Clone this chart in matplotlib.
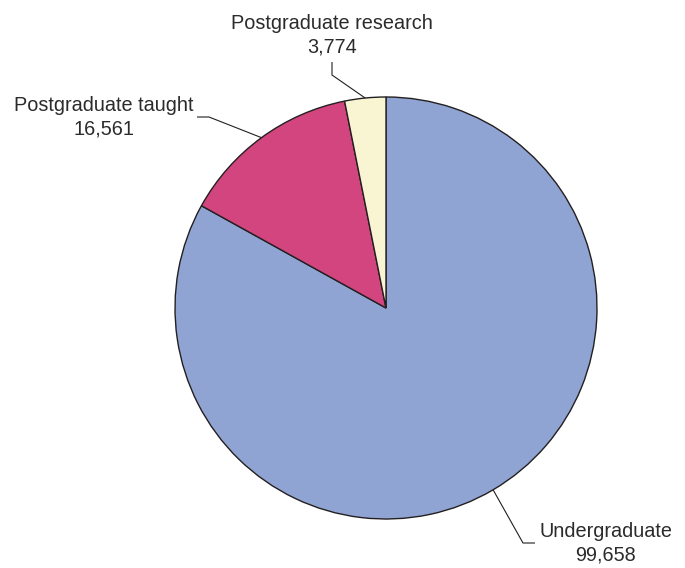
import numpy as np
import matplotlib
matplotlib.use("Agg")
import matplotlib.pyplot as plt

labels = ["Undergraduate", "Postgraduate taught", "Postgraduate research"]
values = [99658, 16561, 3774]
colors = ["#8fa4d3", "#d3457e", "#f9f5d3"]

W, H = 685, 568
fig = plt.figure(figsize=(W / 100, H / 100), dpi=100)
ax = fig.add_axes([0, 0, 1, 1])


def Y(py):
    # pixel row (from top) -> data y
    return H - py


cx, cy, r = 386, Y(308), 211
wedges, _ = ax.pie(
    values,
    colors=colors,
    startangle=90,
    counterclock=False,
    center=(cx, cy),
    radius=r,
    wedgeprops={"edgecolor": "#231f20", "linewidth": 1.0},
)
ax.set_xlim(0, W)
ax.set_ylim(0, H)
ax.set_aspect("auto")
ax.axis("off")

# leader line elbows / ends and text anchors (pixels from top-left)
layout = {
    "Undergraduate": dict(elbow=(523, 543), end=(535, 543), text=(606, 543)),
    "Postgraduate taught": dict(elbow=(209, 117), end=(197, 117), text=(104, 117)),
    "Postgraduate research": dict(elbow=(332, 75), end=(332, 62), text=(332, 35)),
}

for w, lab, val in zip(wedges, labels, values):
    mid = np.deg2rad((w.theta1 + w.theta2) / 2)
    ex, ey = cx + r * np.cos(mid), cy + r * np.sin(mid)
    L = layout[lab]
    ax.plot([ex, L["elbow"][0], L["end"][0]],
            [ey, Y(L["elbow"][1]), Y(L["end"][1])],
            color="#231f20", lw=0.8, solid_capstyle="butt")
    ax.text(L["text"][0], Y(L["text"][1]), f"{lab}\n{val:,}",
            ha="center", va="center", multialignment="center",
            fontsize=14.3, family="Liberation Sans", color="#2b2b2b",
            linespacing=1.27)

fig.savefig("out.png", dpi=100)
